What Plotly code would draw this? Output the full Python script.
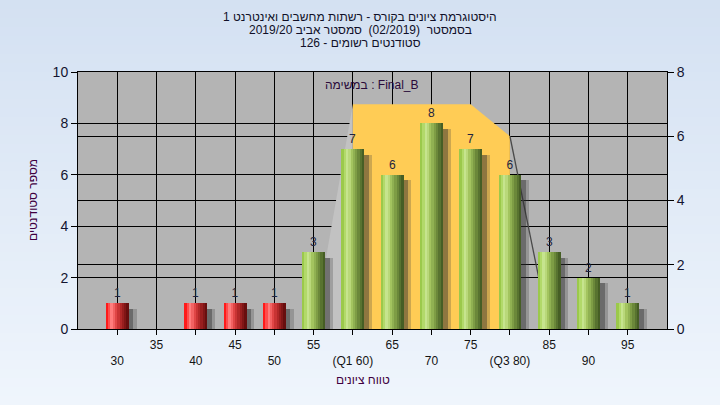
import plotly.graph_objects as go

# ---------------- data ----------------
categories = [30, 35, 40, 45, 50, 55, 60, 65, 70, 75, 80, 85, 90, 95]
counts = [1, 0, 1, 1, 1, 3, 7, 6, 8, 7, 6, 3, 2, 1]
tick_labels = ["30", "35", "40", "45", "50", "55", "(Q1 60)", "65", "70", "75",
               "(Q3 80)", "85", "90", "95"]
fail_limit = 55

iqr_x = [60, 65, 70, 75, 80]
iqr_y = [7, 7, 7, 7, 6]
lead_x = [55, 60]
lead_y = [0, 7]
tail_x = [80, 85]
tail_y = [6, 0]

title_lines = [
    "היסטוגרמת ציונים בקורס - רשתות מחשבים ואינטרנט 1",
    "בסמסטר  (02/2019)  סמסטר אביב 2019/20",
    "סטודנטים רשומים - 126",
]
legend_label = "במשימה : Final_B"
x_title = "טווח ציונים"
y_title = "מספר סטודנטים"

# ---------------- styling ----------------
W, H = 720, 405
ML, MR, MT, MB = 78, 53, 72, 76
PW, PH = W - ML - MR, H - MT - MB
def px_x(px):
    return (px - ML) / PW
def px_y(py):
    return (H - MB - py) / PH

FONT = "Liberation Sans, Arial, DejaVu Sans, sans-serif"
green = ["#9BC94B", "#B2D96A", "#C6E48E", "#B9D87A", "#A3C45F",
         "#90B152", "#7E9D45", "#6B883A", "#587330", "#465E25"]
red = ["#FF1A1A", "#FF4D4D", "#FF7C7C", "#F26262", "#E04646",
       "#C83434", "#B02828", "#981E1E", "#801616", "#680E0E"]

bar_w = 2.9
n_strips = len(green)
strip_w = bar_w / n_strips

fig = go.Figure()

# area (main y axis -> right side, 0..8)
fig.add_trace(go.Scatter(x=lead_x, y=lead_y, mode="lines", fill="tozeroy",
                         fillcolor="#C2C2C2", line=dict(width=0, color="#C2C2C2"),
                         yaxis="y", hoverinfo="skip", showlegend=False))
fig.add_trace(go.Scatter(x=iqr_x, y=iqr_y, mode="lines", fill="tozeroy",
                         fillcolor="#FFCC55", line=dict(width=0, color="#FFCC55"),
                         yaxis="y", hoverinfo="skip", showlegend=False))
fig.add_trace(go.Scatter(x=tail_x, y=tail_y, mode="lines",
                         line=dict(width=1.3, color="#4A4A4A"),
                         yaxis="y", hoverinfo="skip", showlegend=False))

# bar shadows (overlay y axis -> left side, 0..10)
for extra, col in [(1.0, "rgba(60,60,60,0.26)"), (0.6, "rgba(40,40,40,0.38)")]:
    fig.add_trace(go.Bar(x=categories, y=counts, base=-0.22,
                         offset=-bar_w / 2 + 0.4, width=bar_w - 0.4 + extra,
                         marker=dict(color=col, line=dict(width=0)),
                         yaxis="y2", hoverinfo="skip", showlegend=False))

# cylinder-like bars built from gradient strips
for i in range(n_strips):
    cols = [red[i] if c < fail_limit else green[i] for c in categories]
    fig.add_trace(go.Bar(x=categories, y=counts,
                         offset=-bar_w / 2 + i * strip_w, width=strip_w * 1.05,
                         marker=dict(color=cols, line=dict(width=0)),
                         yaxis="y2", hoverinfo="skip", showlegend=False))

# value labels
fig.add_trace(go.Bar(x=categories, y=counts, width=bar_w,
                     text=[str(v) if v > 0 else "" for v in counts],
                     textposition="outside", cliponaxis=False,
                     textfont=dict(size=12, color="#1E2440", family=FONT),
                     marker=dict(color="rgba(0,0,0,0)", line=dict(width=0)),
                     yaxis="y2", hoverinfo="skip", showlegend=False))

# paper gradient background
shapes = []
top_c = (212, 225, 242)
bot_c = (239, 245, 252)
N = 45
for i in range(N):
    t = i / (N - 1)
    c = tuple(round(top_c[k] + (bot_c[k] - top_c[k]) * t) for k in range(3))
    y0 = i * H / N
    y1 = (i + 1) * H / N + 1
    shapes.append(dict(type="rect", xref="paper", yref="paper", layer="below",
                       x0=px_x(0), x1=px_x(W), y0=px_y(y1), y1=px_y(y0),
                       fillcolor="rgb(%d,%d,%d)" % c, line=dict(width=0)))
shapes.append(dict(type="rect", xref="x", yref="y", layer="below",
                   x0=25, x1=100, y0=0, y1=8,
                   fillcolor="#B4B4B4", line=dict(width=0)))

# ticks: staggered two rows
tick_text = []
for i, lab in enumerate(tick_labels):
    tick_text.append(lab if i % 2 == 1 else "<br>" + lab)

annotations = []
for k, line in enumerate(title_lines):
    annotations.append(dict(text=line, x=px_x(360), y=px_y(17 + 13 * k),
                            xref="paper", yref="paper", showarrow=False,
                            xanchor="center", yanchor="middle",
                            font=dict(size=12, color="#101028", family=FONT)))
annotations.append(dict(text=legend_label, x=px_x(372), y=px_y(85),
                        xref="paper", yref="paper", showarrow=False,
                        xanchor="center", yanchor="middle",
                        font=dict(size=12, color="#2A0A3A", family=FONT)))
annotations.append(dict(text=x_title, x=px_x(363), y=px_y(380),
                        xref="paper", yref="paper", showarrow=False,
                        xanchor="center", yanchor="middle",
                        font=dict(size=12, color="#400040", family=FONT)))
annotations.append(dict(text=y_title, x=px_x(33), y=px_y(200),
                        xref="paper", yref="paper", showarrow=False, textangle=-90,
                        xanchor="center", yanchor="middle",
                        font=dict(size=12, color="#400040", family=FONT)))

fig.update_layout(
    width=W, height=H,
    margin=dict(l=ML, r=MR, t=MT, b=MB, pad=0),
    paper_bgcolor="#E2EBF7", plot_bgcolor="#B4B4B4",
    barmode="overlay", bargap=0,
    shapes=shapes, annotations=annotations,
    showlegend=False,
    xaxis=dict(range=[25, 100], tickmode="array", tickvals=categories,
               ticktext=tick_text, showgrid=True, gridcolor="#000000", gridwidth=1,
               zeroline=False, showline=True, linecolor="#000000", linewidth=1,
               mirror=True, ticks="outside", ticklen=5, tickcolor="#000000",
               tickfont=dict(size=12, color="#141414", family=FONT), fixedrange=True),
    yaxis=dict(range=[0, 8], side="right", dtick=2, tick0=0,
               showgrid=True, gridcolor="#000000", gridwidth=1, zeroline=False,
               showline=True, linecolor="#000000", linewidth=1,
               ticks="outside", ticklen=6, tickcolor="#000000",
               tickfont=dict(size=14, color="#141430", family=FONT)),
    yaxis2=dict(range=[0, 10], side="left", overlaying="y", dtick=2, tick0=0,
                showgrid=True, gridcolor="#000000", gridwidth=1, zeroline=False,
                showline=True, linecolor="#000000", linewidth=1,
                ticks="outside", ticklen=6, tickcolor="#000000",
                tickfont=dict(size=14, color="#141430", family=FONT)),
)

fig.write_html("out.html", config={"displayModeBar": False},
               post_script="document.body.style.margin='0';")
